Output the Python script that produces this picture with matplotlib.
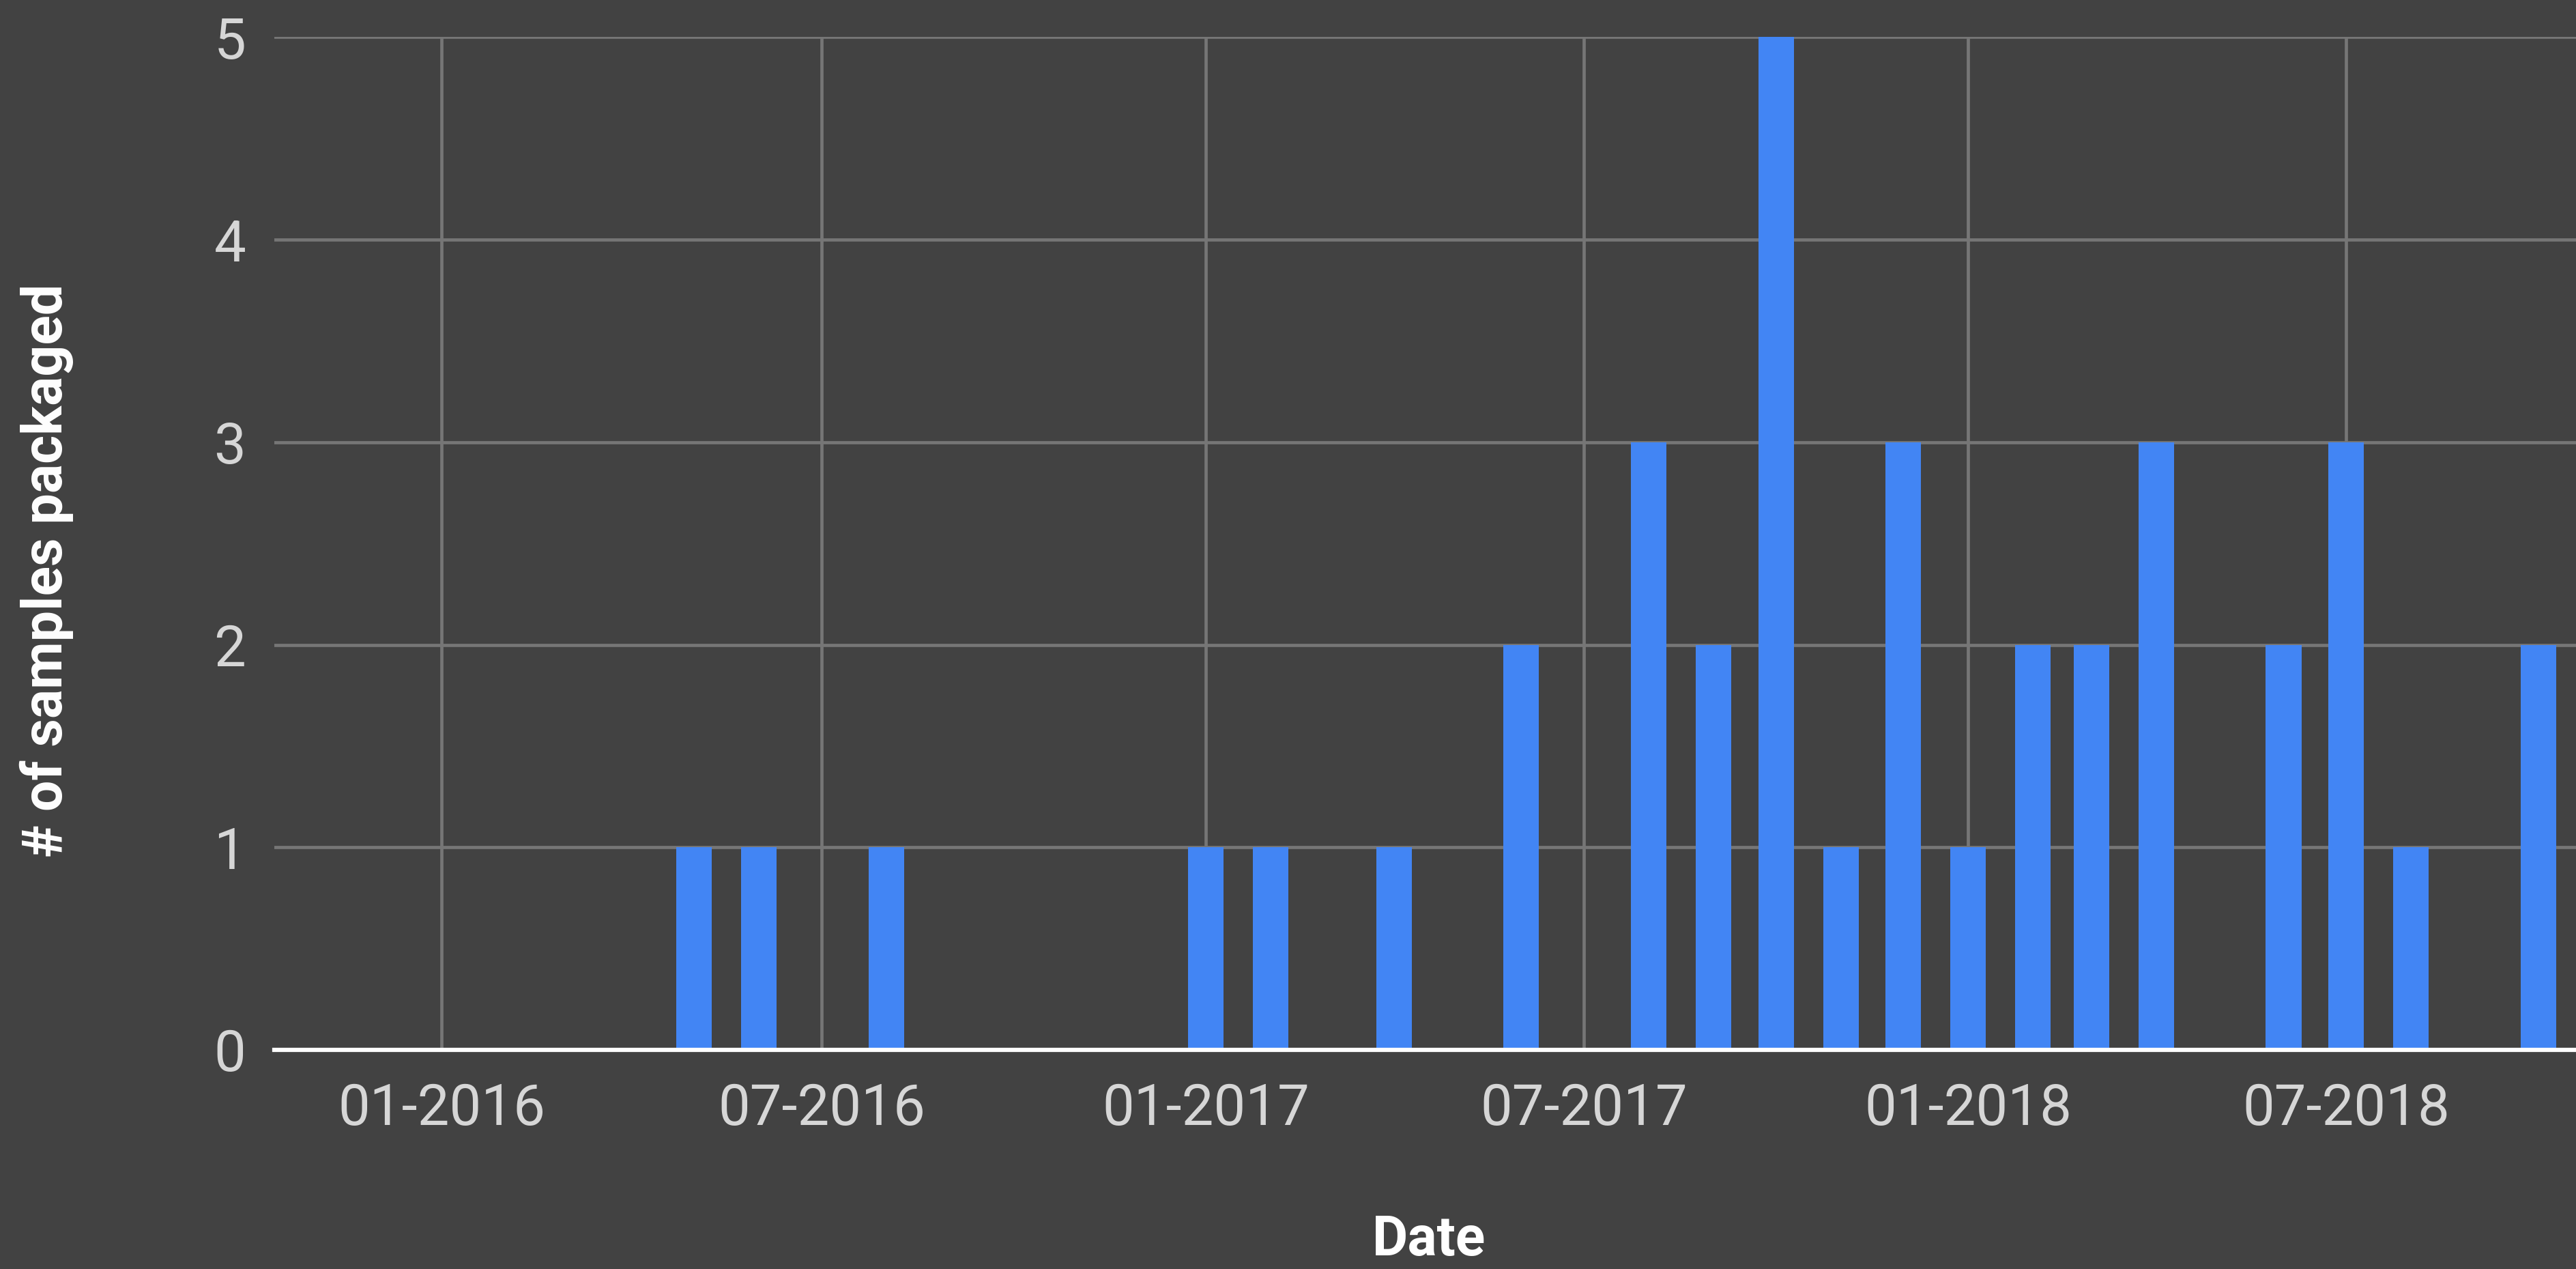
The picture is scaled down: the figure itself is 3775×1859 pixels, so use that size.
import matplotlib
matplotlib.use('Agg')
import matplotlib.pyplot as plt
import matplotlib.dates as mdates
import datetime as dt

# monthly counts (bars sit on the first day of each month)
months = ['2016-05', '2016-06', '2016-08',
          '2017-01', '2017-02', '2017-04', '2017-06', '2017-08', '2017-09',
          '2017-10', '2017-11', '2017-12',
          '2018-01', '2018-02', '2018-03', '2018-04', '2018-06', '2018-07',
          '2018-08', '2018-10']
counts = [1, 1, 1,
          1, 1, 1, 2, 3, 2,
          5, 1, 3,
          1, 2, 2, 3, 2, 3,
          1, 2]
tick_dates = ['2016-01', '2016-07', '2017-01', '2017-07', '2018-01', '2018-07']

bg = '#424242'
bar_color = '#4285F4'
grid_color = '#767676'
label_color = '#d6d6d6'

plt.rcParams['font.family'] = ['Roboto', 'DejaVu Sans']

dates = [dt.datetime.strptime(m, '%Y-%m') for m in months]
ticks = [dt.datetime.strptime(m, '%Y-%m') for m in tick_dates]

fig = plt.figure(figsize=(37.75, 18.59), dpi=100, facecolor=bg)
ax = fig.add_axes([0.1065, 0.1727, 0.8935, 0.798])
ax.set_facecolor(bg)

ax.bar(dates, counts, width=17, color=bar_color, zorder=3)

ax.set_xlim(dt.datetime(2015, 10, 13), dt.datetime(2018, 10, 19))
ax.set_ylim(0, 5)
ax.set_xticks(ticks)
ax.xaxis.set_major_formatter(mdates.DateFormatter('%m-%Y'))
ax.set_yticks([0, 1, 2, 3, 4, 5])

ax.grid(True, color=grid_color, linewidth=3.4, zorder=1)
ax.set_axisbelow(True)

for s in ['top', 'right', 'left']:
    ax.spines[s].set_visible(False)
ax.spines['bottom'].set_color('white')
ax.spines['bottom'].set_linewidth(4.5)
ax.spines['bottom'].set_zorder(4)

ax.tick_params(axis='x', length=0, pad=34, labelsize=60, labelcolor=label_color)
ax.tick_params(axis='y', length=0, pad=30, labelsize=60, labelcolor=label_color)

fig.text(0.5547, 1 - 1817 / 1859, 'Date', color='white', fontsize=58,
         fontweight='bold', ha='center', va='center')
fig.text(68 / 3775, 1 - 836 / 1859, '# of samples packaged', color='white',
         fontsize=58, fontweight='bold', ha='center', va='center', rotation=90)

plt.savefig('out.png', dpi=100, facecolor=bg)
